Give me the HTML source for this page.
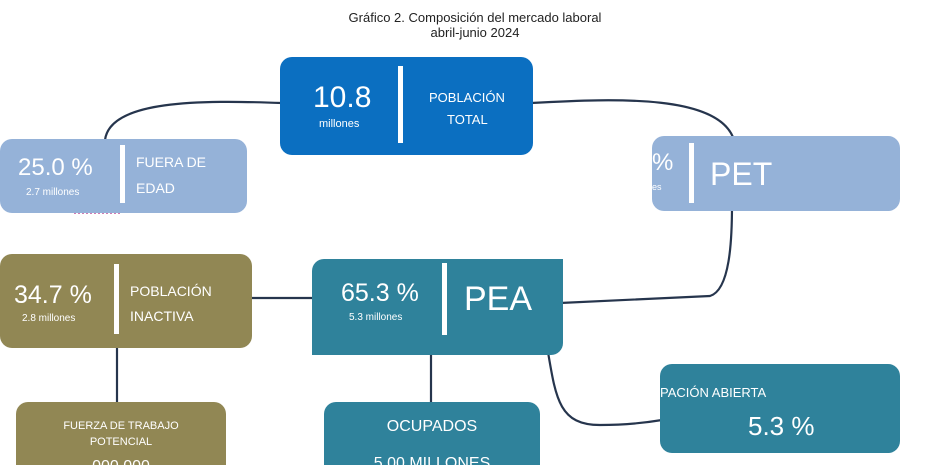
<!DOCTYPE html>
<html style="overflow:hidden;width:950px;height:465px"><head><meta charset="utf-8"><style>
body{margin:0;width:950px;height:465px;overflow:hidden;background:#fff;position:relative;font-family:"Liberation Sans",sans-serif;color:#fff}
.b{position:absolute;border-radius:12px}
.t{position:absolute;white-space:nowrap;line-height:1}
.d{position:absolute;width:5px;background:#fff}
</style></head><body>
<svg width="950" height="465" style="position:absolute;left:0;top:0">
<g fill="none" stroke="#26354d" stroke-width="2.2">
<path d="M282,103 C200,100 110,100 105,140"/>
<path d="M531,103 C620,98 720,95 734,140"/>
<path d="M732,205 C732,240 730,290 710,296 L560,303"/>
<path d="M250,298 L315,298"/>
<path d="M117,345 L117,404"/>
<path d="M431,352 L431,404"/>
<path d="M548,352 C556,400 560,425 600,425 C630,425 650,422 662,420"/>
</g>
<path d="M74,213 L122,213" stroke="#c0509a" stroke-width="1.5" stroke-dasharray="2,2"/>
</svg>
<div class="t" style="left:0;width:950px;text-align:center;top:10px;font-size:13px;color:#222;line-height:15px">Gráfico 2. Composición del mercado laboral<br>abril-junio 2024</div>

<div class="b" style="left:280px;top:57px;width:253px;height:98px;background:#0b6fc1"></div>
<div class="t" style="left:313px;top:83px;font-size:30px">10.8</div>
<div class="t" style="left:319px;top:119px;font-size:11px">millones</div>
<div class="d" style="left:398px;top:66px;height:77px"></div>
<div class="t" style="left:429px;top:91px;font-size:13px">POBLACIÓN</div>
<div class="t" style="left:447px;top:113px;font-size:13px">TOTAL</div>

<div class="b" style="left:0;top:139px;width:247px;height:74px;background:#95b2d8"></div>
<div class="t" style="left:18px;top:156px;font-size:24px">25.0 %</div>
<div class="t" style="left:26px;top:188px;font-size:10px">2.7 millones</div>
<div class="d" style="left:120px;top:145px;height:58px"></div>
<div class="t" style="left:136px;top:155px;font-size:14px">FUERA DE</div>
<div class="t" style="left:136px;top:181px;font-size:14px">EDAD</div>

<div class="b" style="left:652px;top:136px;width:248px;height:75px;background:#95b2d8"></div>
<div class="t" style="left:652px;top:151px;font-size:24px">%</div>
<div class="t" style="left:652px;top:183px;font-size:9px">es</div>
<div class="d" style="left:689px;top:143px;height:60px"></div>
<div class="t" style="left:710px;top:158px;font-size:32px">PET</div>

<div class="b" style="left:0;top:254px;width:252px;height:94px;background:#918754"></div>
<div class="t" style="left:14px;top:283px;font-size:25px">34.7 %</div>
<div class="t" style="left:22px;top:314px;font-size:10px">2.8 millones</div>
<div class="d" style="left:114px;top:264px;height:70px"></div>
<div class="t" style="left:130px;top:284px;font-size:14px">POBLACIÓN</div>
<div class="t" style="left:130px;top:309px;font-size:14px">INACTIVA</div>

<div class="b" style="left:312px;top:259px;width:251px;height:96px;background:#2f829b;border-radius:12px 0 12px 0"></div>
<div class="t" style="left:341px;top:281px;font-size:25px">65.3 %</div>
<div class="t" style="left:349px;top:313px;font-size:10px">5.3 millones</div>
<div class="d" style="left:442px;top:263px;height:72px"></div>
<div class="t" style="left:464px;top:282px;font-size:34px">PEA</div>

<div class="b" style="left:660px;top:364px;width:240px;height:89px;background:#2f829b"></div>
<div class="t" style="left:660px;top:386px;font-size:13px">PACIÓN ABIERTA</div>
<div class="t" style="left:748px;top:413px;font-size:26px">5.3 %</div>

<div class="b" style="left:16px;top:402px;width:210px;height:80px;background:#918754"></div>
<div class="t" style="left:16px;width:210px;text-align:center;top:418px;font-size:11px;line-height:16px">FUERZA DE TRABAJO<br>POTENCIAL</div>
<div class="t" style="left:16px;width:210px;text-align:center;top:459px;font-size:16px">000 000</div>

<div class="b" style="left:324px;top:402px;width:216px;height:80px;background:#2f829b"></div>
<div class="t" style="left:324px;width:216px;text-align:center;top:419px;font-size:16px">OCUPADOS</div>
<div class="t" style="left:324px;width:216px;text-align:center;top:456px;font-size:16px">5.00 MILLONES</div>
</body></html>
